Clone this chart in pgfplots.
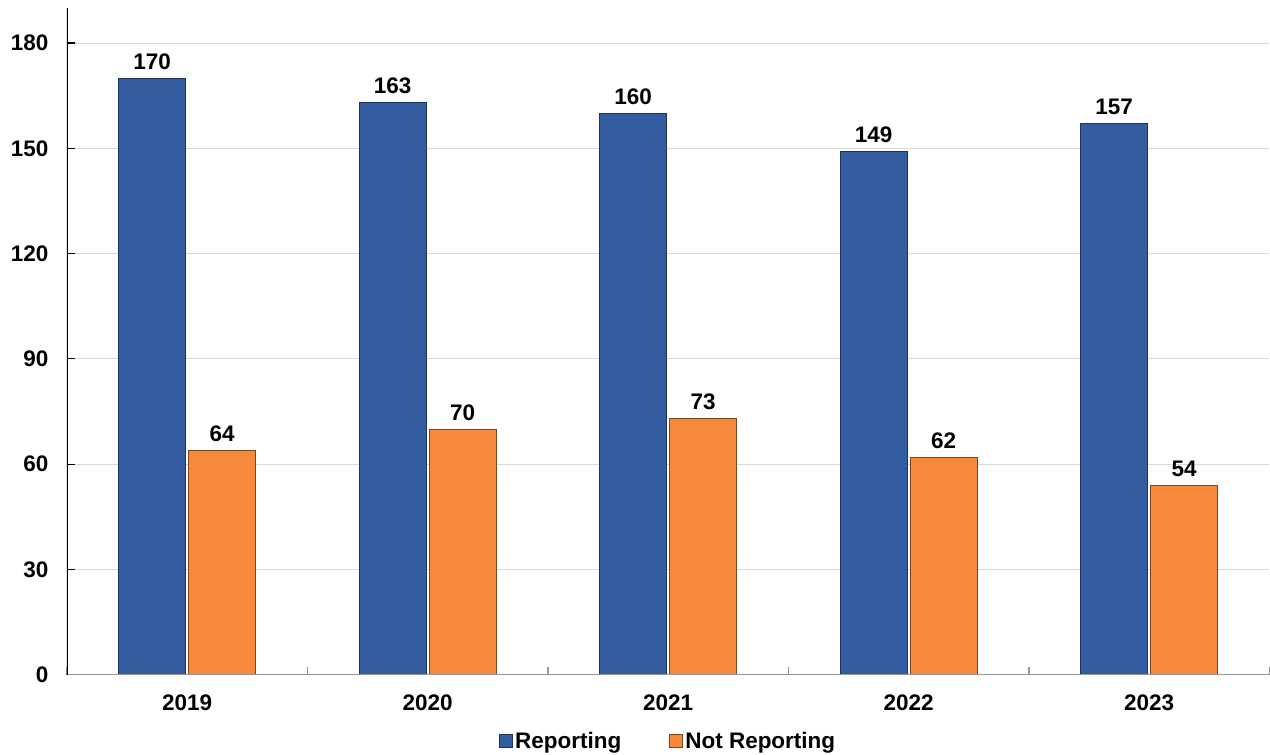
\documentclass[border=0pt]{standalone}
\usepackage{pgfplots}
\pgfplotsset{compat=1.18}
\usepackage{fontspec}
\setmainfont{Liberation Sans}
\definecolor{repblue}{RGB}{52,92,160}
\definecolor{notorange}{RGB}{247,138,58}
\definecolor{gridgray}{RGB}{217,217,217}
\definecolor{axgray}{RGB}{150,150,150}

\begin{document}
\begin{tikzpicture}
\begin{axis}[
  width=1203pt, height=667pt,
  scale only axis,
  xmin=-0.5, xmax=4.5,
  ymin=0, ymax=190,
  axis line style={draw=none},
  xtick={0,1,2,3,4},
  xticklabels={2019,2020,2021,2022,2023},
  minor xtick={-0.5,0.5,1.5,2.5,3.5,4.5},
  major x tick style={draw=none},
  minor x tick style={axgray, line width=1.2pt},
  minor tick length=8pt,
  ytick={0,30,...,180},
  major tick length=8pt,
  ytick style={black, line width=1.2pt},
  xtick pos=bottom, ytick pos=left,
  ymajorgrids=true,
  grid style={gridgray, line width=1pt},
  tick label style={font=\fontsize{22.5}{26}\selectfont\bfseries},
  /pgf/number format/assume math mode=true,
  xticklabel style={yshift=-17pt},
  yticklabel style={xshift=-15pt},
  ybar=3pt,
  bar width=67pt,
  nodes near coords,
  every node near coord/.append style={font=\fontsize{22.5}{26}\selectfont\bfseries, yshift=5pt},
  legend style={at={(0.5,-0.08)}, anchor=north, draw=none, legend columns=2,
    font=\fontsize{22.5}{26}\selectfont\bfseries,
    /tikz/every even column/.append style={column sep=46pt}},
  legend image code/.code={\draw[#1] (0pt,-6.5pt) rectangle (13pt,6.5pt);},
  xtick align=inside, ytick align=inside,
]
\addplot[fill=repblue, draw=repblue!55!black, line width=1pt]
  coordinates {(0,170) (1,163) (2,160) (3,149) (4,157)};
\addplot[fill=notorange, draw=notorange!50!black, line width=1pt]
  coordinates {(0,64) (1,70) (2,73) (3,62) (4,54)};
\legend{Reporting, Not Reporting}
\draw[axgray, line width=1.5pt] (rel axis cs:0,0) -- (rel axis cs:1,0);
\draw[black, line width=1.5pt] (rel axis cs:0,0) -- (rel axis cs:0,1);
\end{axis}
\path ([xshift=-67pt,yshift=8pt]current axis.north west);
\end{tikzpicture}
\end{document}
